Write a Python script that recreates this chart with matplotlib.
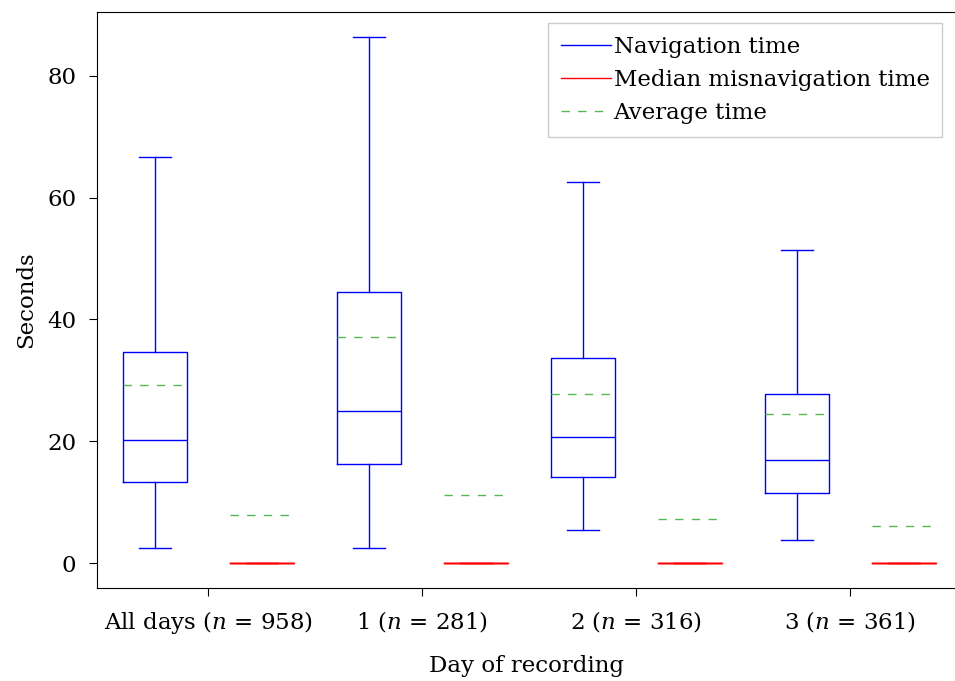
import matplotlib
matplotlib.use("Agg")
import matplotlib.pyplot as plt
from matplotlib.lines import Line2D

# ── Data (seconds) ────────────────────────────────────────────
groups      = ["All days", "1", "2", "3"]
counts      = [958, 281, 316, 361]

nav_low     = [2.5, 2.5, 5.4, 3.8]
nav_q1      = [13.3, 16.3, 14.1, 11.5]
nav_median  = [20.2, 25.0, 20.7, 16.9]
nav_q3      = [34.7, 44.5, 33.7, 27.8]
nav_high    = [66.7, 86.4, 62.6, 51.4]
nav_mean    = [29.2, 37.1, 27.8, 24.5]

mis_low     = [0.0, 0.0, 0.0, 0.0]
mis_q1      = [0.0, 0.0, 0.0, 0.0]
mis_median  = [0.0, 0.0, 0.0, 0.0]
mis_q3      = [0.0, 0.0, 0.0, 0.0]
mis_high    = [0.0, 0.0, 0.0, 0.0]
mis_mean    = [7.9, 11.2, 7.2, 6.1]

BLUE  = "#0000ff"
RED   = "#ff0000"
GREEN = "#55b855"
DASH  = (0, (6, 6))

plt.rcParams["font.family"] = ["DejaVu Serif"]
plt.rcParams["mathtext.fontset"] = "dejavuserif"
plt.rcParams["font.size"] = 16.5


def make_stats(low, q1, med, q3, high, mean):
    return [dict(whislo=a, q1=b, med=c, q3=d, whishi=e, mean=f, fliers=[])
            for a, b, c, d, e, f in zip(low, q1, med, q3, high, mean)]


def draw(ax, stats, positions, color):
    lw = 1.0
    ax.bxp(stats, positions=positions, widths=0.30, showmeans=True,
           meanline=True, showfliers=False,
           boxprops=dict(color=color, linewidth=lw),
           whiskerprops=dict(color=color, linewidth=lw),
           capprops=dict(color=color, linewidth=lw),
           medianprops=dict(color=color, linewidth=lw),
           meanprops=dict(color=GREEN, linestyle=DASH, linewidth=1.0),
           manage_ticks=False)


fig = plt.figure(figsize=(9.55, 6.81), dpi=100)
ax = fig.add_axes([0.1016, 0.1366, 0.8984, 0.8458])

x = list(range(1, len(groups) + 1))
draw(ax, make_stats(nav_low, nav_q1, nav_median, nav_q3, nav_high, nav_mean),
     [i - 0.25 for i in x], BLUE)
draw(ax, make_stats(mis_low, mis_q1, mis_median, mis_q3, mis_high, mis_mean),
     [i + 0.25 for i in x], RED)

ax.set_xlim(0.48, 4.49)
ax.set_ylim(-4.1, 90.5)
ax.set_yticks([0, 20, 40, 60, 80])
ax.set_xticks(x)
ax.set_xticklabels([f"{g} ($n$ = {c})" for g, c in zip(groups, counts)])
ax.tick_params(direction="out", length=6, width=0.8, pad=9)
ax.spines["right"].set_visible(False)

ax.set_xlabel("Day of recording", labelpad=14)
ax.set_ylabel("Seconds", labelpad=7)

handles = [Line2D([], [], color=BLUE, lw=1.0),
           Line2D([], [], color=RED, lw=1.0),
           Line2D([], [], color=GREEN, lw=1.0, linestyle=DASH)]
labels = ["Navigation time", "Median misnavigation time", "Average time"]
leg = ax.legend(handles, labels, loc="upper right",
                bbox_to_anchor=(0.985, 0.981), borderaxespad=0,
                fancybox=False, framealpha=1, edgecolor="#cccccc",
                handlelength=2.2, handletextpad=0.1, labelspacing=0.5,
                borderpad=0.55)
leg.get_frame().set_linewidth(1.0)

fig.savefig("out.png", dpi=100)
